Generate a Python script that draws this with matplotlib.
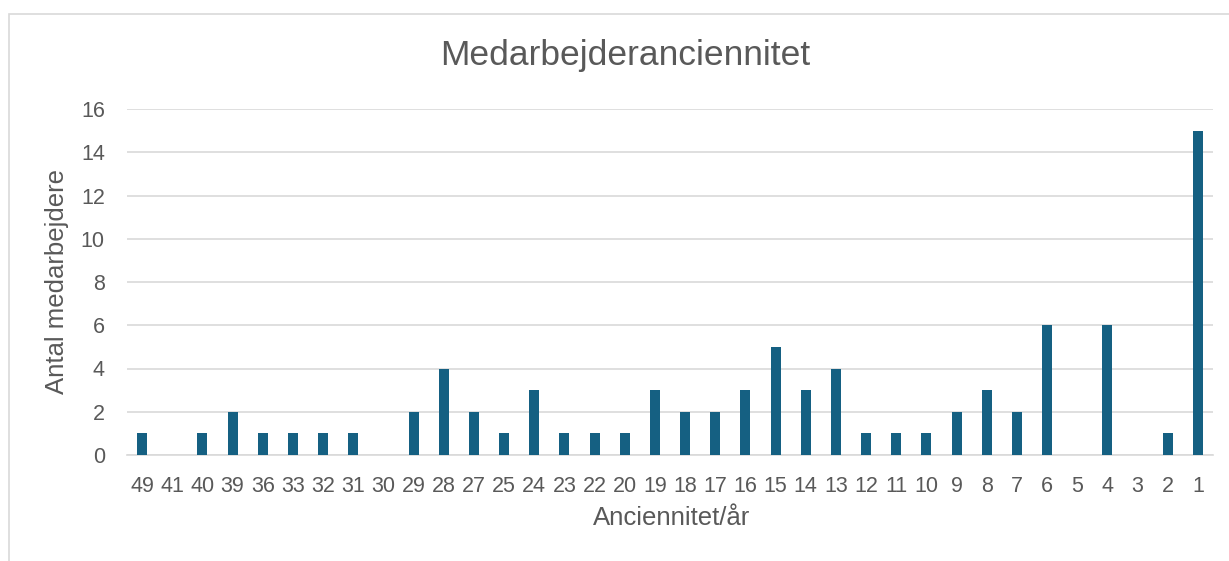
import matplotlib
matplotlib.use('Agg')
import matplotlib.pyplot as plt
from matplotlib.patches import Rectangle

# Data
years = ['49', '41', '40', '39', '36', '33', '32', '31', '30', '29', '28', '27',
         '25', '24', '23', '22', '20', '19', '18', '17', '16', '15', '14', '13',
         '12', '11', '10', '9', '8', '7', '6', '5', '4', '3', '2', '1']
counts = [1, 0, 1, 2, 1, 1, 1, 1, 0, 2, 4, 2,
          1, 3, 1, 1, 1, 3, 2, 2, 3, 5, 3, 4,
          1, 1, 1, 2, 3, 2, 6, 0, 6, 0, 1, 15]

plt.rcParams['font.family'] = ['Liberation Sans', 'DejaVu Sans']
text_color = '#595959'

W, H = 1229, 561
fig = plt.figure(figsize=(W / 100, H / 100), dpi=100)

# chart border
fig.patches.append(Rectangle((9 / W, -0.05), 1.1, 1 - 14 / H + 0.05,
                             transform=fig.transFigure, fill=False,
                             edgecolor='#d9d9d9', linewidth=1.2))

left, right = 127 / W, 1213 / W
bottom, top = 1 - 455 / H, 1 - 109 / H
ax = fig.add_axes([left, bottom, right - left, top - bottom])

x = range(len(years))
ax.bar(x, counts, width=0.33, color='#156082', zorder=3)

ax.set_xlim(-0.5, len(years) - 0.5)
ax.set_ylim(0, 16)
ax.set_yticks(range(0, 17, 2))
ax.set_xticks(list(x))
ax.set_xticklabels(years)
ax.grid(axis='y', color='#d9d9d9', linewidth=1.2, zorder=0)
ax.tick_params(axis='both', length=0, labelsize=15.5, colors=text_color)
ax.tick_params(axis='x', pad=15)
ax.tick_params(axis='y', pad=16)
for s in ['top', 'right', 'left']:
    ax.spines[s].set_visible(False)
ax.spines['bottom'].set_color('#d9d9d9')
ax.spines['bottom'].set_linewidth(1.2)

fig.text(672 / W, 1 - 518 / H, 'Anciennitet/år', ha='center', va='center',
         fontsize=18.5, color=text_color)
fig.text(57 / W, 1 - 282 / H, 'Antal medarbejdere', ha='center', va='center',
         rotation=90, fontsize=18.5, color=text_color)
fig.text(625 / W, 1 - 56 / H, 'Medarbejderanciennitet', ha='center', va='center',
         fontsize=25.5, color=text_color)

fig.savefig('out.png', dpi=100)
